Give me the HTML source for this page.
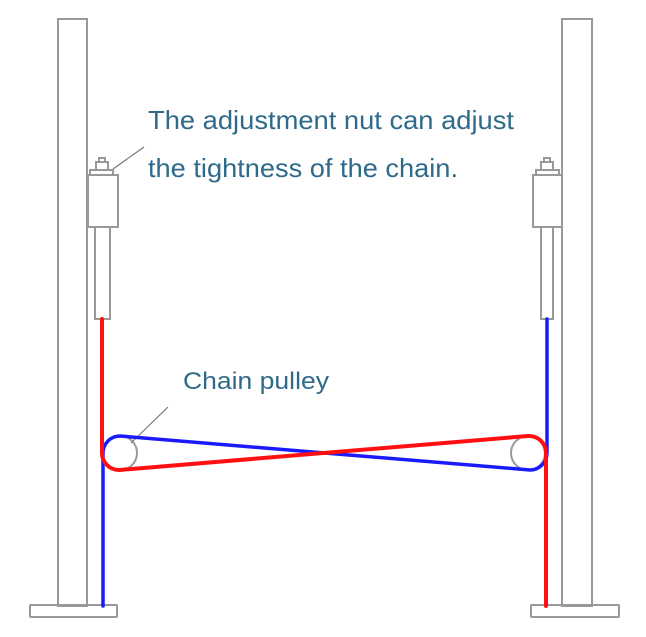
<!DOCTYPE html>
<html><head><meta charset="utf-8"><style>html,body{margin:0;padding:0;background:#fff}svg{display:block}</style></head>
<body>
<svg width="646" height="637" viewBox="0 0 646 637" xmlns="http://www.w3.org/2000/svg">
<g fill="none" stroke="#999" stroke-width="2">
  <rect x="58" y="19" width="29" height="587"/>
  <rect x="30" y="605" width="87" height="12" rx="1"/>
  <rect x="562" y="19" width="30" height="587"/>
  <rect x="531" y="605" width="88" height="12" rx="1"/>
  <rect x="88" y="175" width="30" height="52"/>
  <rect x="95" y="227" width="15" height="92"/>
  <path d="M90 175 L90 170 L113 170 L113 175 M96 170 L96 162 L108 162 L108 170 M99 162 L99 158 L105 158 L105 162"/>
  <rect x="533" y="175" width="29" height="52"/>
  <rect x="541" y="227" width="12" height="92"/>
  <path d="M536 175 L536 170 L559 170 L559 175 M541 170 L541 162 L553 162 L553 170 M544 162 L544 158 L550 158 L550 162"/>
  <circle cx="120" cy="453" r="17"/>
  <circle cx="528" cy="453" r="17"/>
</g>
<g stroke="#777" stroke-width="1.2" fill="none">
  <line x1="144" y1="147" x2="113" y2="169"/>
  <line x1="168" y1="407" x2="131" y2="443"/>
</g>
<g fill="none" stroke-width="4" stroke-linecap="round" stroke-linejoin="round">
  <path stroke="#1a1aff" d="M103 606 L103 453 A17 17 0 0 1 120 436 L530 470 A17 17 0 0 0 547 453 L547 319" stroke-width="3.5"/>
  <path stroke="#ff1010" d="M102 319 L102 453 A17 17 0 0 0 119 470 L528 436 A17 17 0 0 1 546 453 L546 606"/>
</g>
<g font-family="Liberation Sans, Arial, sans-serif" font-size="26" fill="#2f6a8a">
  <text x="148" y="129" textLength="366" lengthAdjust="spacingAndGlyphs">The adjustment nut can adjust</text>
  <text x="148" y="177" textLength="310" lengthAdjust="spacingAndGlyphs">the tightness of the chain.</text>
  <text x="183" y="389" font-size="24" textLength="146" lengthAdjust="spacingAndGlyphs">Chain pulley</text>
</g>
</svg>
</body></html>
